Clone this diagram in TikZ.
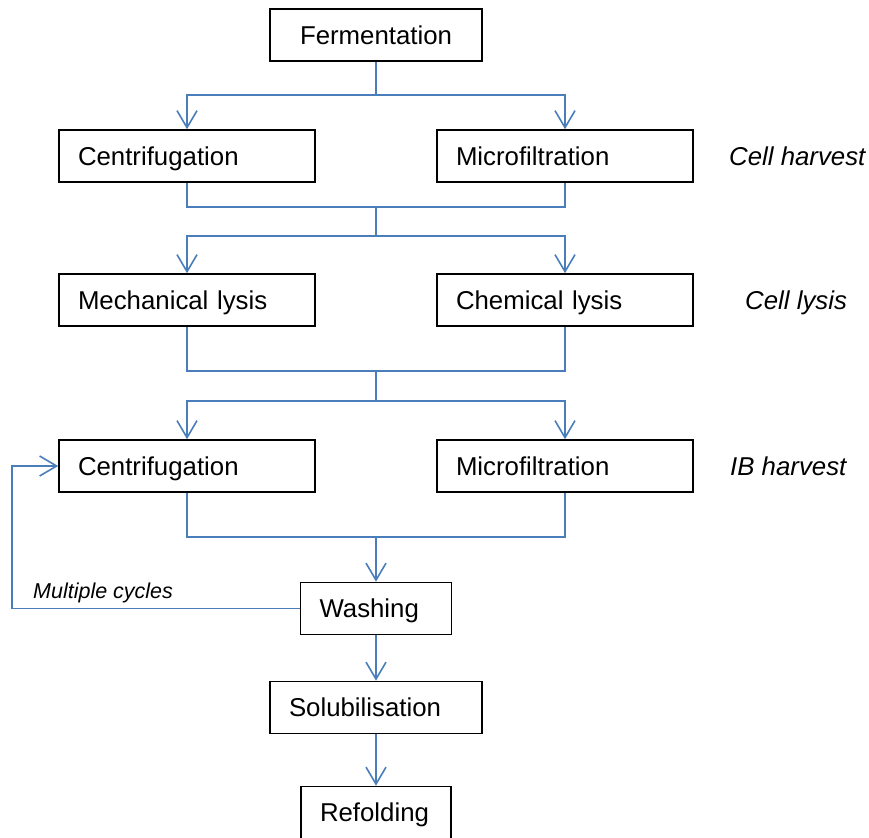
\documentclass[tikz,border=0pt]{standalone}
\usepackage{fontspec}
\setmainfont{Liberation Sans}
\usetikzlibrary{arrows.meta}
\definecolor{flowblue}{HTML}{4A7EBB}
\begin{document}
\begin{tikzpicture}[x=1pt,y=-1pt,
  stagebox/.style={draw=black, line width=1.6pt, fill=white, rectangle,
    minimum height=52pt, inner ysep=0pt, inner xsep=19pt,
    text height=18.5pt, text depth=0pt, align=left,
    font=\fontsize{25.8}{30}\selectfont},
  phase/.style={anchor=west, inner sep=0pt, text height=18.5pt, text depth=0pt,
    font=\fontsize{25.8}{30}\selectfont\itshape},
  link/.style={draw=flowblue, line width=1.6pt},
  arr/.style={link, -{Straight Barb[length=17pt,width=20pt,line width=1.6pt]}}
]
\useasboundingbox (0,0) rectangle (869,837);

% process steps
\node[stagebox, text width=174pt, align=center] (ferm) at (376,35) {Fermentation};
\node[stagebox, text width=218pt] (cent1) at (187,156) {Centrifugation};
\node[stagebox, text width=218pt] (micro1) at (565,156) {Microfiltration};
\node[stagebox, text width=218pt] (mech) at (187,300) {Mechanical lysis};
\node[stagebox, text width=218pt] (chem) at (565,300) {Chemical lysis};
\node[stagebox, text width=218pt] (cent2) at (187,466) {Centrifugation};
\node[stagebox, text width=218pt] (micro2) at (565,466) {Microfiltration};
\node[stagebox, text width=113pt] (wash) at (376,608.5) {Washing};
\node[stagebox, text width=174pt] (solu) at (376,707.5) {Solubilisation};
\node[stagebox, text width=112pt] (refold) at (376,812.5) {Refolding};

% phase labels
\node[phase] (lharv) at (729,156) {Cell harvest};
\node[phase] (llysis) at (745,300) {Cell lysis};
\node[phase] (libh) at (730,466) {IB harvest};

% junction points
\coordinate (s1) at (376,95);
\coordinate (m1) at (376,207);
\coordinate (s2) at (376,236);
\coordinate (m2) at (376,371);
\coordinate (s3) at (376,401);
\coordinate (m3) at (376,537);
\coordinate (loop) at (12,608.5);

% cell harvest split
\draw[link] (ferm.south) -- (s1);
\draw[arr] (s1) -| (cent1.north);
\draw[arr] (s1) -| (micro1.north);

% cell lysis
\draw[link] (cent1.south) |- (m1) -| (micro1.south);
\draw[link] (m1) -- (s2);
\draw[arr] (s2) -| (mech.north);
\draw[arr] (s2) -| (chem.north);

% inclusion body harvest
\draw[link] (mech.south) |- (m2) -| (chem.south);
\draw[link] (m2) -- (s3);
\draw[arr] (s3) -| (cent2.north);
\draw[arr] (s3) -| (micro2.north);

% downstream steps
\draw[link] (cent2.south) |- (m3) -| (micro2.south);
\draw[arr] (m3) -- (wash.north);
\draw[arr] (wash.south) -- (solu.north);
\draw[arr] (solu.south) -- (refold.north);

% washing loop
\draw[arr] (wash.west) -- (loop) |- (cent2.west);
\node[anchor=base west, inner sep=0pt, font=\fontsize{21.5}{25}\selectfont\itshape] (cycles) at (33,598) {Multiple cycles};
\end{tikzpicture}
\end{document}
